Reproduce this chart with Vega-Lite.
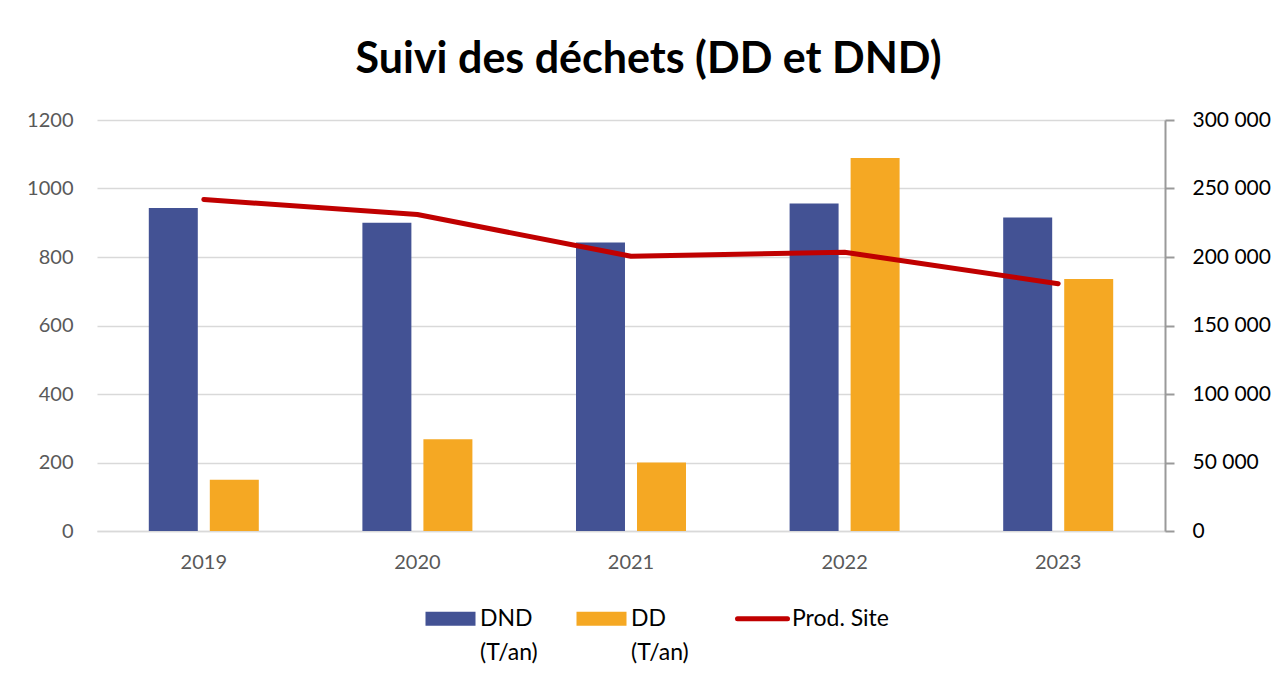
{
  "$schema": "https://vega.github.io/schema/vega-lite/v6.json",
  "width": 1068,
  "height": 411,
  "autosize": {"type": "none"},
  "padding": {"left": 97, "top": 120, "right": 118, "bottom": 156},
  "background": "#ffffff",
  "config": {
    "view": {"stroke": null},
    "font": "Lato",
    "axis": {"labelFont": "Lato", "labelFontSize": 20, "title": null}
  },
  "title": {
    "text": "Suivi des déchets (DD et DND)",
    "font": "Lato",
    "fontSize": 43,
    "fontWeight": "bold",
    "color": "#000000",
    "frame": "bounds",
    "anchor": "middle",
    "offset": 27
  },
  "datasets": {
    "bars": [
      {"year": "2019", "series": "DND (T/an)", "value": 943},
      {"year": "2019", "series": "DD (T/an)", "value": 150},
      {"year": "2020", "series": "DND (T/an)", "value": 900},
      {"year": "2020", "series": "DD (T/an)", "value": 268},
      {"year": "2021", "series": "DND (T/an)", "value": 842},
      {"year": "2021", "series": "DD (T/an)", "value": 200},
      {"year": "2022", "series": "DND (T/an)", "value": 956},
      {"year": "2022", "series": "DD (T/an)", "value": 1089},
      {"year": "2023", "series": "DND (T/an)", "value": 915},
      {"year": "2023", "series": "DD (T/an)", "value": 736}
    ],
    "prod": [
      {"year": "2019", "series": "Prod. Site", "prod": 242000},
      {"year": "2020", "series": "Prod. Site", "prod": 231000},
      {"year": "2021", "series": "Prod. Site", "prod": 200500},
      {"year": "2022", "series": "Prod. Site", "prod": 203500},
      {"year": "2023", "series": "Prod. Site", "prod": 180500}
    ]
  },
  "encoding": {
    "x": {
      "field": "year",
      "type": "ordinal",
      "scale": {"paddingInner": 0.485, "paddingOuter": 0.2425},
      "axis": {
        "labelAngle": 0,
        "labelColor": "#595959",
        "labelPadding": 21,
        "ticks": false,
        "domain": true,
        "domainColor": "#d9d9d9",
        "domainWidth": 1.5
      }
    }
  },
  "layer": [
    {
      "data": {"name": "bars"},
      "mark": {"type": "bar"},
      "encoding": {
        "xOffset": {
          "field": "series",
          "type": "nominal",
          "scale": {"domain": ["DND (T/an)", "DD (T/an)"], "paddingInner": 0.197}
        },
        "y": {
          "field": "value",
          "type": "quantitative",
          "scale": {"domain": [0, 1200]},
          "axis": {
            "values": [0, 200, 400, 600, 800, 1000, 1200],
            "format": "d",
            "labelColor": "#595959",
            "labelPadding": 24,
            "ticks": false,
            "domain": false,
            "grid": true,
            "gridColor": "#d9d9d9",
            "gridWidth": 1.5
          }
        },
        "color": {
          "field": "series",
          "type": "nominal",
          "scale": {
            "domain": ["DND (T/an)", "DD (T/an)", "Prod. Site"],
            "range": ["#435294", "#F5A823", "#C00000"]
          },
          "legend": {
            "orient": "none",
            "legendX": 342,
            "legendY": 487,
            "direction": "horizontal",
            "title": null,
            "labelFont": "Lato",
            "labelFontSize": 23,
            "labelColor": "#000000",
            "labelOffset": 18,
            "columnPadding": 38,
            "symbolSize": 2500,
            "labelExpr": "datum.label == 'Prod. Site' ? ['Prod. Site', ' '] : split(datum.label, ' ')",
            "encode": {
              "symbols": {
                "update": {
                  "shape": {"signal": "datum.value === 'Prod. Site' ? 'M-1,0H1' : 'M-1,-0.28H1V0.28H-1Z'"},
                  "fill": {"signal": "datum.value === 'Prod. Site' ? 'transparent' : scale('color', datum.value)"},
                  "stroke": {"signal": "scale('color', datum.value)"},
                  "strokeWidth": {"signal": "datum.value === 'Prod. Site' ? 5 : 0"},
                  "strokeCap": {"value": "round"},
                  "opacity": {"value": 1}
                }
              },
              "labels": {
                "update": {
                  "lineHeight": {"value": 34}
                }
              }
            }
          }
        }
      }
    },
    {
      "data": {"name": "prod"},
      "mark": {"type": "line", "strokeWidth": 5, "strokeCap": "round", "strokeJoin": "round"},
      "encoding": {
        "y": {
          "field": "prod",
          "type": "quantitative",
          "scale": {"domain": [0, 300000]},
          "axis": {
            "orient": "right",
            "values": [0, 50000, 100000, 150000, 200000, 250000, 300000],
            "labelExpr": "replace(format(datum.value, ','), ',', ' ')",
            "labelColor": "#000000",
            "labelFontSize": 21,
            "labelPadding": 18,
            "grid": false,
            "domain": true,
            "domainColor": "#9a9a9a",
            "domainWidth": 2,
            "ticks": true,
            "tickColor": "#9a9a9a",
            "tickWidth": 2,
            "tickSize": 9
          }
        },
        "color": {"field": "series", "type": "nominal"}
      }
    }
  ],
  "resolve": {"scale": {"y": "independent"}}
}
